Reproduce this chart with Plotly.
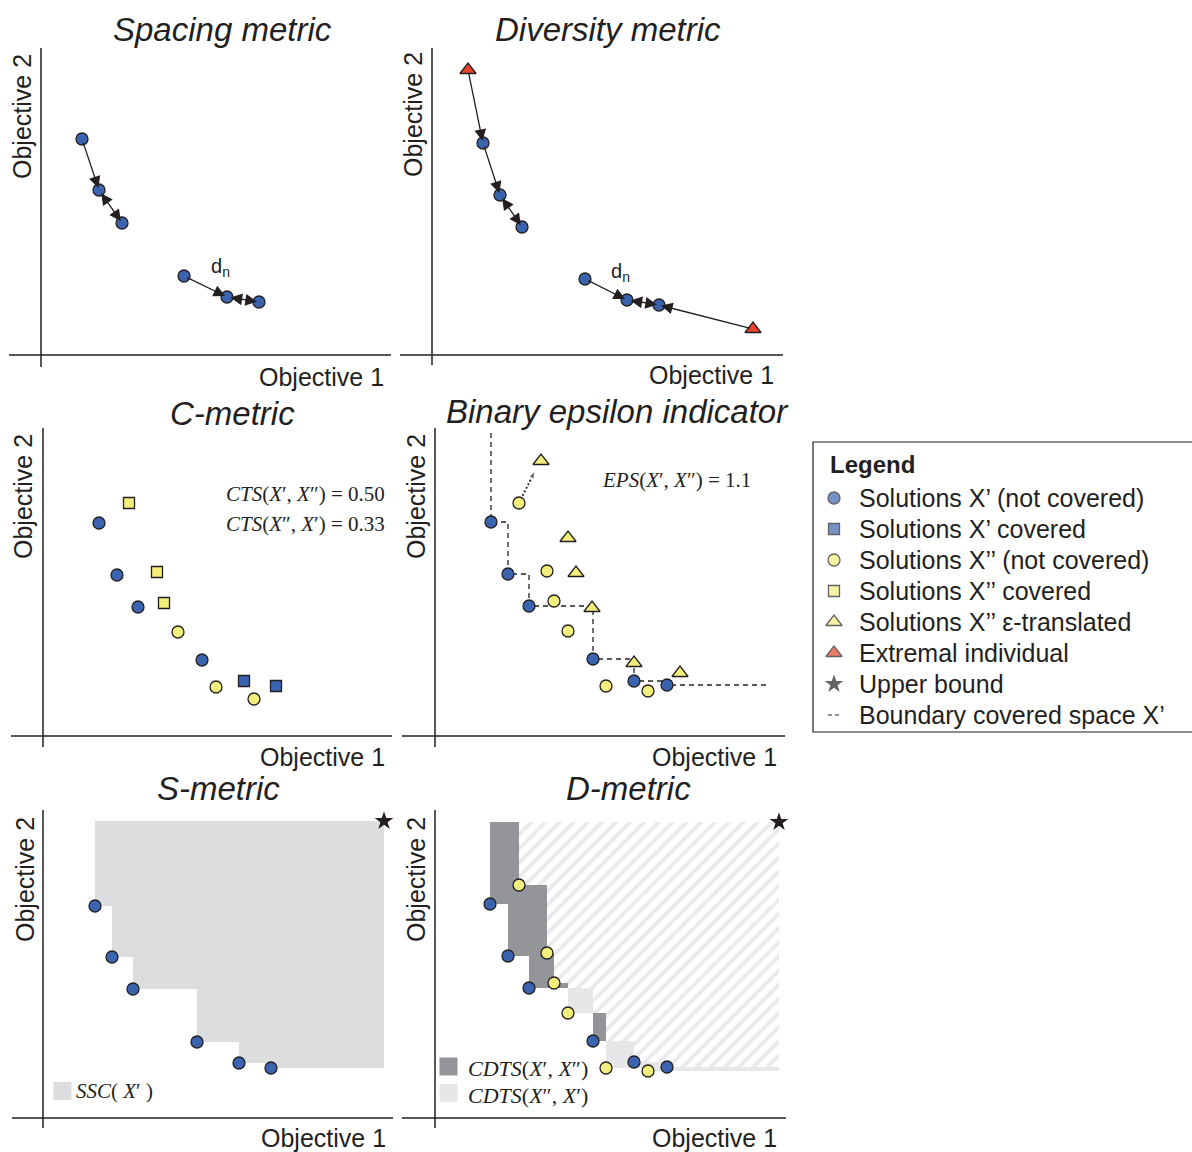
import numpy as np
import plotly.graph_objects as go

# ---------------- data (objective values, arbitrary units) ----------------
# Spacing metric
sp_x = [4.1, 5.8, 8.1, 14.3, 18.6, 21.8]
sp_y = [21.6, 16.5, 13.2, 7.9, 5.8, 5.3]
sp_arrows = [(0, 1, "end"), (1, 2, "end+start"), (3, 4, "end"), (4, 5, "end+start")]
sp_dn = (17.9, 8.7)

# Diversity metric
dv_x = [5.1, 6.8, 9.0, 15.3, 19.5, 22.7]
dv_y = [21.2, 16.0, 12.8, 7.6, 5.5, 5.0]
dv_ext_x = [3.6, 32.1]
dv_ext_y = [28.5, 2.6]
dv_dn = (18.8, 8.2)

# C-metric
c_x1_x = [5.6, 7.4, 9.5, 15.9]
c_x1_y = [21.3, 16.1, 12.9, 7.6]
c_x1cov_x = [20.1, 23.3]
c_x1cov_y = [5.5, 5.0]
c_x2cov_x = [8.6, 11.4, 12.1]
c_x2cov_y = [23.3, 16.4, 13.3]
c_x2_x = [13.5, 17.3, 21.1]
c_x2_y = [10.4, 4.9, 3.7]
cts_values = ["0.50", "0.33"]

# Binary epsilon indicator
eps_x1_x = [5.6, 7.3, 9.4, 15.8, 19.9, 23.2]
eps_x1_y = [21.4, 16.2, 13.0, 7.7, 5.5, 5.1]
eps_x2_x = [8.4, 11.2, 11.9, 13.3, 17.1, 21.3]
eps_x2_y = [23.3, 16.5, 13.5, 10.5, 5.0, 4.5]
eps_tr_x = [10.6, 13.3, 14.1, 15.7, 19.9, 24.5]
eps_tr_y = [27.5, 19.8, 16.3, 12.8, 7.3, 6.3]
eps_bound_top = 30.3
eps_bound_end = 33.2
eps_arrow_tip = (10.0, 26.5)
eps_value = "1.1"

# S-metric
s_x1_x = [5.2, 6.9, 9.0, 15.4, 19.6, 22.8]
s_x1_y = [21.2, 16.1, 12.9, 7.6, 5.5, 5.0]
s_ref = (34.1, 29.7)

# D-metric
d_x1_x = [5.5, 7.3, 9.4, 15.8, 19.9, 23.2]
d_x1_y = [21.4, 16.2, 13.0, 7.7, 5.6, 5.1]
d_x2_x = [8.4, 11.2, 11.9, 13.3, 17.1, 21.3]
d_x2_y = [23.3, 16.5, 13.5, 10.5, 5.0, 4.7]
d_ref = (34.4, 29.6)

legend_items = [
    "Solutions X\u2019 (not covered)",
    "Solutions X\u2019 covered",
    "Solutions X\u2019\u2019 (not covered)",
    "Solutions X\u2019\u2019 covered",
    "Solutions X\u2019\u2019 \u03b5-translated",
    "Extremal individual",
    "Upper bound",
    "Boundary covered space X\u2019",
]
titles = ["Spacing metric", "Diversity metric", "C-metric",
          "Binary epsilon indicator", "S-metric", "D-metric"]

# ---------------- styling ----------------
W, H = 1192, 1152
BLUE = "#3a64b0"
YELLOW = "#f4ee7d"
RED = "#e8412c"
INK = "#231f20"
DARK = "#939598"
LIGHT = "#e6e7e9"
SGRAY = "#dcdddf"
SANS = "Liberation Sans, Arial, sans-serif"
SERIF = "Liberation Serif, Times New Roman, serif"
SCALE = 10.0  # px per unit

panels = [
    dict(ox=41, oy=355, L=9, R=391, T=48, B=367,
         title=(222, 30), o2=(22, 117), o1=(321, 377)),
    dict(ox=432, oy=355, L=400, R=783, T=48, B=365,
         title=(608, 30), o2=(413, 115), o1=(711, 375)),
    dict(ox=43, oy=736, L=11, R=392, T=428, B=747,
         title=(232, 413), o2=(23, 497), o1=(322, 757)),
    dict(ox=435, oy=736, L=402, R=785, T=428, B=747,
         title=(618, 412), o2=(416, 497), o1=(714, 757)),
    dict(ox=43, oy=1118, L=12, R=393, T=810, B=1128,
         title=(218, 788), o2=(25, 880), o1=(323, 1138)),
    dict(ox=435, oy=1118, L=402, R=786, T=810, B=1128,
         title=(628, 788), o2=(416, 880), o1=(714, 1138)),
]

fig = go.Figure()
layout = dict(width=W, height=H, margin=dict(l=0, r=0, t=0, b=0),
              paper_bgcolor="white", plot_bgcolor="rgba(0,0,0,0)",
              showlegend=False)
shapes = []
annotations = []


def px_ann(text, x, y, size, **kw):
    d = dict(text=text, x=x / W, y=1 - y / H, xref="paper", yref="paper",
             showarrow=False, font=dict(family=SANS, size=size, color=INK))
    d.update(kw)
    return d


for i, p in enumerate(panels, start=1):
    xr = [(p["L"] - p["ox"]) / SCALE, (p["R"] - p["ox"]) / SCALE]
    yr = [(p["oy"] - p["B"]) / SCALE, (p["oy"] - p["T"]) / SCALE]
    p["xr"], p["yr"] = xr, yr
    sx = "" if i == 1 else str(i)
    layout["xaxis" + sx] = dict(domain=[p["L"] / W, p["R"] / W], range=xr,
                                visible=False, fixedrange=True, anchor="y" + sx)
    layout["yaxis" + sx] = dict(domain=[1 - p["B"] / H, 1 - p["T"] / H], range=yr,
                                visible=False, fixedrange=True, anchor="x" + sx)
    p["xref"], p["yref"] = "x" + sx, "y" + sx
    shapes.append(dict(type="line", xref=p["xref"], yref=p["yref"],
                       x0=xr[0], x1=xr[1], y0=0, y1=0,
                       line=dict(color=INK, width=1.5)))
    shapes.append(dict(type="line", xref=p["xref"], yref=p["yref"],
                       x0=0, x1=0, y0=yr[0], y1=yr[1],
                       line=dict(color=INK, width=1.5)))
    annotations.append(px_ann("<i>%s</i>" % titles[i - 1], p["title"][0], p["title"][1], 33,
                              xanchor="center", yanchor="middle"))
    annotations.append(px_ann("Objective 2", p["o2"][0], p["o2"][1], 25,
                              textangle=-90, xanchor="center", yanchor="middle"))
    annotations.append(px_ann("Objective 1", p["o1"][0], p["o1"][1], 25,
                              xanchor="center", yanchor="middle"))


def ax_of(i):
    return dict(xaxis=panels[i - 1]["xref"], yaxis=panels[i - 1]["yref"])


def pts(i, xs, ys, symbol, color, size):
    fig.add_trace(go.Scatter(x=xs, y=ys, mode="markers", cliponaxis=False,
                             marker=dict(symbol=symbol, color=color, size=size,
                                         line=dict(color=INK, width=1.3)),
                             hoverinfo="skip", **ax_of(i)))


def arrow(i, x0, y0, x1, y1, side="end"):
    p = panels[i - 1]
    annotations.append(dict(x=x1, y=y1, ax=x0, ay=y0, xref=p["xref"], yref=p["yref"],
                            axref=p["xref"], ayref=p["yref"], text="", showarrow=True,
                            arrowhead=2, arrowsize=1.8, arrowwidth=1.3, arrowcolor=INK,
                            arrowside=side, standoff=2, startstandoff=2))


def staircase(xs, ys, ref):
    order = sorted(zip(xs, ys))
    nd, best = [], np.inf
    for x, y in order:
        if y < best:
            nd.append((x, y))
            best = y
    px_, py_ = [nd[0][0]], [ref[1]]
    for k, (x, y) in enumerate(nd):
        nx = nd[k + 1][0] if k + 1 < len(nd) else ref[0]
        px_ += [x, nx]
        py_ += [y, y]
    px_ += [ref[0], nd[0][0]]
    py_ += [ref[1], ref[1]]
    return px_, py_


# ---------------- panel 1: spacing ----------------
pts(1, sp_x, sp_y, "circle", BLUE, 12)
for a, b, side in sp_arrows:
    arrow(1, sp_x[a], sp_y[a], sp_x[b], sp_y[b], side)
annotations.append(dict(x=sp_dn[0], y=sp_dn[1], xref="x", yref="y", showarrow=False,
                        text="d<sub>n</sub>", font=dict(family=SANS, size=20, color=INK)))

# ---------------- panel 2: diversity ----------------
chain_x = [dv_ext_x[0]] + dv_x + [dv_ext_x[1]]
chain_y = [dv_ext_y[0]] + dv_y + [dv_ext_y[1]]
for a, b, side in [(0, 1, "end"), (1, 2, "end"), (2, 3, "end+start"),
                   (4, 5, "end"), (5, 6, "end+start"), (7, 6, "end")]:
    arrow(2, chain_x[a], chain_y[a], chain_x[b], chain_y[b], side)
pts(2, dv_x, dv_y, "circle", BLUE, 12)
pts(2, dv_ext_x, dv_ext_y, "triangle-up", RED, 14)
annotations.append(dict(x=dv_dn[0], y=dv_dn[1], xref="x2", yref="y2", showarrow=False,
                        text="d<sub>n</sub>", font=dict(family=SANS, size=20, color=INK)))

# ---------------- panel 3: C-metric ----------------
pts(3, c_x1_x, c_x1_y, "circle", BLUE, 12)
pts(3, c_x1cov_x, c_x1cov_y, "square", BLUE, 11)
pts(3, c_x2cov_x, c_x2cov_y, "square", YELLOW, 11)
pts(3, c_x2_x, c_x2_y, "circle", YELLOW, 12)
cts_labels = ["<i>CTS</i>(<i>X</i>\u2032, <i>X</i>\u2033) = ",
              "<i>CTS</i>(<i>X</i>\u2033, <i>X</i>\u2032) = "]
for k, (lab, val) in enumerate(zip(cts_labels, cts_values)):
    annotations.append(px_ann(lab + val, 387, 494 + 30 * k, 21, xanchor="right",
                              yanchor="middle",
                              font=dict(family=SERIF, size=21, color=INK)))

# ---------------- panel 4: binary epsilon ----------------
bx = [eps_x1_x[0]] + eps_x1_x + [eps_bound_end]
by = [eps_bound_top] + eps_x1_y + [eps_x1_y[-1]]
fig.add_trace(go.Scatter(x=bx, y=by, mode="lines", line=dict(color=INK, width=1.3,
                                                             dash="5px,4px", shape="hv"),
                         hoverinfo="skip", cliponaxis=False, **ax_of(4)))
fig.add_trace(go.Scatter(x=[eps_x2_x[0], eps_arrow_tip[0]], y=[eps_x2_y[0], eps_arrow_tip[1]],
                         mode="lines+markers", cliponaxis=False,
                         line=dict(color=INK, width=1.8, dash="2px,2px"),
                         marker=dict(symbol=["circle", "arrow"], size=[0, 8], color=INK,
                                     angleref="previous"),
                         hoverinfo="skip", **ax_of(4)))
pts(4, eps_x1_x, eps_x1_y, "circle", BLUE, 12)
pts(4, eps_x2_x, eps_x2_y, "circle", YELLOW, 12)
pts(4, eps_tr_x, eps_tr_y, "triangle-up", YELLOW, 14)
annotations.append(px_ann("<i>EPS</i>(<i>X</i>\u2032, <i>X</i>\u2033) = " + eps_value,
                          600, 480, 21, xanchor="left", yanchor="middle",
                          font=dict(family=SERIF, size=21, color=INK)))

# ---------------- panel 5: S-metric ----------------
sx_, sy_ = staircase(s_x1_x, s_x1_y, s_ref)
fig.add_trace(go.Scatter(x=sx_, y=sy_, fill="toself", fillcolor=SGRAY, mode="lines",
                         line=dict(width=0), hoverinfo="skip", **ax_of(5)))
pts(5, s_x1_x, s_x1_y, "circle", BLUE, 12)
fig.add_trace(go.Scatter(x=[s_ref[0]], y=[s_ref[1]], mode="markers", cliponaxis=False,
                         marker=dict(symbol="star", color=INK, size=14, line=dict(width=0)),
                         hoverinfo="skip", **ax_of(5)))
fig.add_trace(go.Scatter(x=[1.95], y=[2.7], mode="markers", cliponaxis=False,
                         marker=dict(symbol="square", color=SGRAY, size=18, line=dict(width=0)),
                         hoverinfo="skip", **ax_of(5)))
annotations.append(dict(x=3.1, y=2.7, xref="x5", yref="y5", showarrow=False,
                        xanchor="left", yanchor="middle",
                        text="<i>SSC</i>( <i>X</i>\u2032 )",
                        font=dict(family=SERIF, size=21, color=INK)))

# ---------------- panel 6: D-metric ----------------
ax1, ay1 = staircase(d_x1_x, d_x1_y, d_ref)
ax2, ay2 = staircase(d_x2_x, d_x2_y, d_ref)
ix = [max(a, b) for a in d_x1_x for b in d_x2_x]
iy = [max(a, b) for a in d_x1_y for b in d_x2_y]
ix3, iy3 = staircase(ix, iy, d_ref)
fig.add_trace(go.Scatter(x=ax1, y=ay1, fill="toself", fillcolor=DARK, mode="lines",
                         line=dict(width=0), hoverinfo="skip", **ax_of(6)))
fig.add_trace(go.Scatter(x=ax2, y=ay2, fill="toself", fillcolor=LIGHT, mode="lines",
                         line=dict(width=0), hoverinfo="skip", **ax_of(6)))
fig.add_trace(go.Scatter(x=ix3, y=iy3, fill="toself", mode="lines", line=dict(width=0),
                         fillcolor="white",
                         fillpattern=dict(shape="/", bgcolor="white", fgcolor="#d4d5d8",
                                          size=10, solidity=0.4),
                         hoverinfo="skip", **ax_of(6)))
pts(6, d_x1_x, d_x1_y, "circle", BLUE, 12)
pts(6, d_x2_x, d_x2_y, "circle", YELLOW, 12)
fig.add_trace(go.Scatter(x=[d_ref[0]], y=[d_ref[1]], mode="markers", cliponaxis=False,
                         marker=dict(symbol="star", color=INK, size=14, line=dict(width=0)),
                         hoverinfo="skip", **ax_of(6)))
fig.add_trace(go.Scatter(x=[1.35, 1.35], y=[5.15, 2.5], mode="markers", cliponaxis=False,
                         marker=dict(symbol="square", color=[DARK, LIGHT], size=18,
                                     line=dict(width=0)),
                         hoverinfo="skip", **ax_of(6)))
for k, lab in enumerate(["<i>CDTS</i>(<i>X</i>\u2032, <i>X</i>\u2033)",
                         "<i>CDTS</i>(<i>X</i>\u2033, <i>X</i>\u2032)"]):
    annotations.append(dict(x=3.1, y=[5.0, 2.3][k], xref="x6", yref="y6", showarrow=False,
                            xanchor="left", yanchor="middle", text=lab,
                            font=dict(family=SERIF, size=22, color=INK)))

# ---------------- legend box ----------------
LB = dict(L=813, R=1192, T=442, B=732)
layout["xaxis7"] = dict(domain=[LB["L"] / W, 1], range=[LB["L"], LB["R"]],
                        visible=False, fixedrange=True, anchor="y7")
layout["yaxis7"] = dict(domain=[1 - LB["B"] / H, 1 - LB["T"] / H], range=[LB["B"], LB["T"]],
                        visible=False, fixedrange=True, anchor="x7")
shapes.append(dict(type="rect", xref="paper", yref="paper",
                   x0=LB["L"] / W, x1=1.01, y0=1 - LB["B"] / H, y1=1 - LB["T"] / H,
                   line=dict(color=INK, width=1.2), fillcolor="rgba(0,0,0,0)"))
annotations.append(px_ann("<b>Legend</b>", 828, 465, 24, xanchor="left", yanchor="middle"))
row0, dy, mx = 498, 31, 834
leg_syms = ["circle", "square", "circle", "square", "triangle-up", "triangle-up", "star"]
leg_cols = [BLUE, BLUE, YELLOW, YELLOW, YELLOW, RED, INK]
leg_size = [12, 11, 12, 11, 14, 14, 14]
rows = [row0 + dy * k for k in range(len(legend_items))]
fig.add_trace(go.Scatter(x=[mx] * 7, y=rows[:7], mode="markers", cliponaxis=False,
                         marker=dict(symbol=leg_syms, color=leg_cols, size=leg_size,
                                     line=dict(color=INK, width=[1.3] * 6 + [0])),
                         hoverinfo="skip", xaxis="x7", yaxis="y7"))
fig.add_trace(go.Scatter(x=[828, 840], y=[rows[7], rows[7]], mode="lines", cliponaxis=False,
                         line=dict(color=INK, width=1.2, dash="4px,3px"),
                         hoverinfo="skip", xaxis="x7", yaxis="y7"))
for k, lab in enumerate(legend_items):
    annotations.append(px_ann(lab, 857, rows[k], 25, xanchor="left", yanchor="middle"))

layout["shapes"] = shapes
layout["annotations"] = annotations
fig.update_layout(**layout)
fig.write_html("out.html")
